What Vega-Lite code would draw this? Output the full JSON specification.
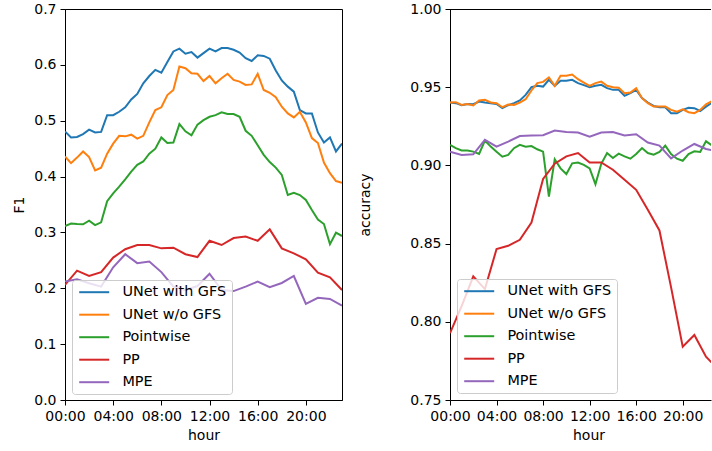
{
  "$schema": "https://vega.github.io/schema/vega-lite/v6.json",
  "background": "white",
  "padding": {"left": 12, "top": 1, "right": 0, "bottom": 0},
  "bounds": "flush",
  "spacing": 108,
  "config": {
    "font": "DejaVu Sans",
    "view": {"stroke": "black", "strokeWidth": 1},
    "axis": {
      "domainColor": "black", "domainWidth": 1, "tickColor": "black", "tickSize": 5, "tickWidth": 1,
      "labelFont": "DejaVu Sans", "labelFontSize": 14, "labelColor": "black", "labelPadding": 4,
      "labelFlush": false, "labelOverlap": false,
      "titleFont": "DejaVu Sans", "titleFontSize": 14, "titleFontWeight": "normal", "titleColor": "black",
      "grid": false
    },
    "legend": {
      "labelFont": "DejaVu Sans", "labelFontSize": 14.4, "labelColor": "black"
    }
  },
  "datasets": {
    "f1": [
      {"h":0,"m":"UNet with GFS","v":0.481},{"h":0.5,"m":"UNet with GFS","v":0.470},{"h":1,"m":"UNet with GFS","v":0.471},{"h":1.5,"m":"UNet with GFS","v":0.476},{"h":2,"m":"UNet with GFS","v":0.484},{"h":2.5,"m":"UNet with GFS","v":0.479},{"h":3,"m":"UNet with GFS","v":0.480},{"h":3.5,"m":"UNet with GFS","v":0.510},{"h":4,"m":"UNet with GFS","v":0.510},{"h":4.5,"m":"UNet with GFS","v":0.516},{"h":5,"m":"UNet with GFS","v":0.524},{"h":5.5,"m":"UNet with GFS","v":0.538},{"h":6,"m":"UNet with GFS","v":0.548},{"h":6.5,"m":"UNet with GFS","v":0.567},{"h":7,"m":"UNet with GFS","v":0.580},{"h":7.5,"m":"UNet with GFS","v":0.591},{"h":8,"m":"UNet with GFS","v":0.586},{"h":8.5,"m":"UNet with GFS","v":0.605},{"h":9,"m":"UNet with GFS","v":0.624},{"h":9.5,"m":"UNet with GFS","v":0.629},{"h":10,"m":"UNet with GFS","v":0.620},{"h":10.5,"m":"UNet with GFS","v":0.623},{"h":11,"m":"UNet with GFS","v":0.613},{"h":11.5,"m":"UNet with GFS","v":0.621},{"h":12,"m":"UNet with GFS","v":0.629},{"h":12.5,"m":"UNet with GFS","v":0.624},{"h":13,"m":"UNet with GFS","v":0.630},{"h":13.5,"m":"UNet with GFS","v":0.630},{"h":14,"m":"UNet with GFS","v":0.627},{"h":14.5,"m":"UNet with GFS","v":0.622},{"h":15,"m":"UNet with GFS","v":0.612},{"h":15.5,"m":"UNet with GFS","v":0.607},{"h":16,"m":"UNet with GFS","v":0.617},{"h":16.5,"m":"UNet with GFS","v":0.616},{"h":17,"m":"UNet with GFS","v":0.611},{"h":17.5,"m":"UNet with GFS","v":0.590},{"h":18,"m":"UNet with GFS","v":0.572},{"h":18.5,"m":"UNet with GFS","v":0.561},{"h":19,"m":"UNet with GFS","v":0.552},{"h":19.5,"m":"UNet with GFS","v":0.519},{"h":20,"m":"UNet with GFS","v":0.513},{"h":20.5,"m":"UNet with GFS","v":0.513},{"h":21,"m":"UNet with GFS","v":0.479},{"h":21.5,"m":"UNet with GFS","v":0.461},{"h":22,"m":"UNet with GFS","v":0.470},{"h":22.5,"m":"UNet with GFS","v":0.445},{"h":23,"m":"UNet with GFS","v":0.459},
      {"h":0,"m":"UNet w/o GFS","v":0.436},{"h":0.5,"m":"UNet w/o GFS","v":0.424},{"h":1,"m":"UNet w/o GFS","v":0.434},{"h":1.5,"m":"UNet w/o GFS","v":0.445},{"h":2,"m":"UNet w/o GFS","v":0.435},{"h":2.5,"m":"UNet w/o GFS","v":0.411},{"h":3,"m":"UNet w/o GFS","v":0.416},{"h":3.5,"m":"UNet w/o GFS","v":0.441},{"h":4,"m":"UNet w/o GFS","v":0.459},{"h":4.5,"m":"UNet w/o GFS","v":0.473},{"h":5,"m":"UNet w/o GFS","v":0.472},{"h":5.5,"m":"UNet w/o GFS","v":0.475},{"h":6,"m":"UNet w/o GFS","v":0.468},{"h":6.5,"m":"UNet w/o GFS","v":0.473},{"h":7,"m":"UNet w/o GFS","v":0.497},{"h":7.5,"m":"UNet w/o GFS","v":0.519},{"h":8,"m":"UNet w/o GFS","v":0.524},{"h":8.5,"m":"UNet w/o GFS","v":0.546},{"h":9,"m":"UNet w/o GFS","v":0.555},{"h":9.5,"m":"UNet w/o GFS","v":0.597},{"h":10,"m":"UNet w/o GFS","v":0.594},{"h":10.5,"m":"UNet w/o GFS","v":0.585},{"h":11,"m":"UNet w/o GFS","v":0.584},{"h":11.5,"m":"UNet w/o GFS","v":0.571},{"h":12,"m":"UNet w/o GFS","v":0.580},{"h":12.5,"m":"UNet w/o GFS","v":0.567},{"h":13,"m":"UNet w/o GFS","v":0.576},{"h":13.5,"m":"UNet w/o GFS","v":0.584},{"h":14,"m":"UNet w/o GFS","v":0.573},{"h":14.5,"m":"UNet w/o GFS","v":0.570},{"h":15,"m":"UNet w/o GFS","v":0.564},{"h":15.5,"m":"UNet w/o GFS","v":0.565},{"h":16,"m":"UNet w/o GFS","v":0.584},{"h":16.5,"m":"UNet w/o GFS","v":0.555},{"h":17,"m":"UNet w/o GFS","v":0.550},{"h":17.5,"m":"UNet w/o GFS","v":0.542},{"h":18,"m":"UNet w/o GFS","v":0.525},{"h":18.5,"m":"UNet w/o GFS","v":0.513},{"h":19,"m":"UNet w/o GFS","v":0.506},{"h":19.5,"m":"UNet w/o GFS","v":0.516},{"h":20,"m":"UNet w/o GFS","v":0.497},{"h":20.5,"m":"UNet w/o GFS","v":0.469},{"h":21,"m":"UNet w/o GFS","v":0.460},{"h":21.5,"m":"UNet w/o GFS","v":0.425},{"h":22,"m":"UNet w/o GFS","v":0.406},{"h":22.5,"m":"UNet w/o GFS","v":0.392},{"h":23,"m":"UNet w/o GFS","v":0.389},
      {"h":0,"m":"Pointwise","v":0.3115},{"h":0.5,"m":"Pointwise","v":0.316},{"h":1,"m":"Pointwise","v":0.315},{"h":1.5,"m":"Pointwise","v":0.3145},{"h":2,"m":"Pointwise","v":0.321},{"h":2.5,"m":"Pointwise","v":0.313},{"h":3,"m":"Pointwise","v":0.318},{"h":3.5,"m":"Pointwise","v":0.356},{"h":4,"m":"Pointwise","v":0.370},{"h":4.5,"m":"Pointwise","v":0.382},{"h":5,"m":"Pointwise","v":0.395},{"h":5.5,"m":"Pointwise","v":0.409},{"h":6,"m":"Pointwise","v":0.421},{"h":6.5,"m":"Pointwise","v":0.427},{"h":7,"m":"Pointwise","v":0.441},{"h":7.5,"m":"Pointwise","v":0.450},{"h":8,"m":"Pointwise","v":0.470},{"h":8.5,"m":"Pointwise","v":0.460},{"h":9,"m":"Pointwise","v":0.461},{"h":9.5,"m":"Pointwise","v":0.494},{"h":10,"m":"Pointwise","v":0.481},{"h":10.5,"m":"Pointwise","v":0.474},{"h":11,"m":"Pointwise","v":0.493},{"h":11.5,"m":"Pointwise","v":0.501},{"h":12,"m":"Pointwise","v":0.507},{"h":12.5,"m":"Pointwise","v":0.510},{"h":13,"m":"Pointwise","v":0.515},{"h":13.5,"m":"Pointwise","v":0.512},{"h":14,"m":"Pointwise","v":0.512},{"h":14.5,"m":"Pointwise","v":0.507},{"h":15,"m":"Pointwise","v":0.482},{"h":15.5,"m":"Pointwise","v":0.473},{"h":16,"m":"Pointwise","v":0.456},{"h":16.5,"m":"Pointwise","v":0.439},{"h":17,"m":"Pointwise","v":0.426},{"h":17.5,"m":"Pointwise","v":0.416},{"h":18,"m":"Pointwise","v":0.403},{"h":18.5,"m":"Pointwise","v":0.367},{"h":19,"m":"Pointwise","v":0.371},{"h":19.5,"m":"Pointwise","v":0.367},{"h":20,"m":"Pointwise","v":0.358},{"h":20.5,"m":"Pointwise","v":0.340},{"h":21,"m":"Pointwise","v":0.323},{"h":21.5,"m":"Pointwise","v":0.315},{"h":22,"m":"Pointwise","v":0.279},{"h":22.5,"m":"Pointwise","v":0.2995},{"h":23,"m":"Pointwise","v":0.2936},
      {"h":0,"m":"PP","v":0.206},{"h":1,"m":"PP","v":0.2315},{"h":2,"m":"PP","v":0.222},{"h":3,"m":"PP","v":0.229},{"h":4,"m":"PP","v":0.255},{"h":5,"m":"PP","v":0.270},{"h":6,"m":"PP","v":0.2775},{"h":7,"m":"PP","v":0.2775},{"h":8,"m":"PP","v":0.2715},{"h":9,"m":"PP","v":0.2727},{"h":10,"m":"PP","v":0.261},{"h":11,"m":"PP","v":0.256},{"h":12,"m":"PP","v":0.285},{"h":13,"m":"PP","v":0.2775},{"h":14,"m":"PP","v":0.290},{"h":15,"m":"PP","v":0.2925},{"h":16,"m":"PP","v":0.285},{"h":17,"m":"PP","v":0.3055},{"h":18,"m":"PP","v":0.2715},{"h":19,"m":"PP","v":0.2625},{"h":20,"m":"PP","v":0.252},{"h":21,"m":"PP","v":0.228},{"h":22,"m":"PP","v":0.2195},{"h":23,"m":"PP","v":0.197},
      {"h":0,"m":"MPE","v":0.212},{"h":1,"m":"MPE","v":0.216},{"h":2,"m":"MPE","v":0.209},{"h":3,"m":"MPE","v":0.203},{"h":4,"m":"MPE","v":0.2375},{"h":5,"m":"MPE","v":0.261},{"h":6,"m":"MPE","v":0.245},{"h":7,"m":"MPE","v":0.248},{"h":8,"m":"MPE","v":0.229},{"h":9,"m":"MPE","v":0.203},{"h":10,"m":"MPE","v":0.197},{"h":11,"m":"MPE","v":0.204},{"h":12,"m":"MPE","v":0.226},{"h":13,"m":"MPE","v":0.197},{"h":14,"m":"MPE","v":0.195},{"h":15,"m":"MPE","v":0.203},{"h":16,"m":"MPE","v":0.212},{"h":17,"m":"MPE","v":0.202},{"h":18,"m":"MPE","v":0.2095},{"h":19,"m":"MPE","v":0.222},{"h":20,"m":"MPE","v":0.172},{"h":21,"m":"MPE","v":0.183},{"h":22,"m":"MPE","v":0.181},{"h":23,"m":"MPE","v":0.169}
    ],
    "acc": [
      {"h":0,"m":"UNet with GFS","v":0.9402},{"h":0.5,"m":"UNet with GFS","v":0.9398},{"h":1,"m":"UNet with GFS","v":0.9385},{"h":1.5,"m":"UNet with GFS","v":0.9393},{"h":2,"m":"UNet with GFS","v":0.9391},{"h":2.5,"m":"UNet with GFS","v":0.9408},{"h":3,"m":"UNet with GFS","v":0.9402},{"h":3.5,"m":"UNet with GFS","v":0.9398},{"h":4,"m":"UNet with GFS","v":0.9393},{"h":4.5,"m":"UNet with GFS","v":0.9366},{"h":5,"m":"UNet with GFS","v":0.9385},{"h":5.5,"m":"UNet with GFS","v":0.9398},{"h":6,"m":"UNet with GFS","v":0.9415},{"h":6.5,"m":"UNet with GFS","v":0.9451},{"h":7,"m":"UNet with GFS","v":0.9500},{"h":7.5,"m":"UNet with GFS","v":0.9509},{"h":8,"m":"UNet with GFS","v":0.9504},{"h":8.5,"m":"UNet with GFS","v":0.9547},{"h":9,"m":"UNet with GFS","v":0.9509},{"h":9.5,"m":"UNet with GFS","v":0.9541},{"h":10,"m":"UNet with GFS","v":0.9541},{"h":10.5,"m":"UNet with GFS","v":0.9547},{"h":11,"m":"UNet with GFS","v":0.9526},{"h":11.5,"m":"UNet with GFS","v":0.9513},{"h":12,"m":"UNet with GFS","v":0.9500},{"h":12.5,"m":"UNet with GFS","v":0.9509},{"h":13,"m":"UNet with GFS","v":0.9515},{"h":13.5,"m":"UNet with GFS","v":0.9494},{"h":14,"m":"UNet with GFS","v":0.9483},{"h":14.5,"m":"UNet with GFS","v":0.9483},{"h":15,"m":"UNet with GFS","v":0.9445},{"h":15.5,"m":"UNet with GFS","v":0.9462},{"h":16,"m":"UNet with GFS","v":0.9483},{"h":16.5,"m":"UNet with GFS","v":0.9430},{"h":17,"m":"UNet with GFS","v":0.9402},{"h":17.5,"m":"UNet with GFS","v":0.9380},{"h":18,"m":"UNet with GFS","v":0.9372},{"h":18.5,"m":"UNet with GFS","v":0.9372},{"h":19,"m":"UNet with GFS","v":0.9334},{"h":19.5,"m":"UNet with GFS","v":0.9334},{"h":20,"m":"UNet with GFS","v":0.9355},{"h":20.5,"m":"UNet with GFS","v":0.9368},{"h":21,"m":"UNet with GFS","v":0.9366},{"h":21.5,"m":"UNet with GFS","v":0.9348},{"h":22,"m":"UNet with GFS","v":0.9376},{"h":22.5,"m":"UNet with GFS","v":0.9400},{"h":23,"m":"UNet with GFS","v":0.9400},
      {"h":0,"m":"UNet w/o GFS","v":0.9402},{"h":0.5,"m":"UNet w/o GFS","v":0.9404},{"h":1,"m":"UNet w/o GFS","v":0.9387},{"h":1.5,"m":"UNet w/o GFS","v":0.9393},{"h":2,"m":"UNet w/o GFS","v":0.9383},{"h":2.5,"m":"UNet w/o GFS","v":0.9415},{"h":3,"m":"UNet w/o GFS","v":0.9419},{"h":3.5,"m":"UNet w/o GFS","v":0.9402},{"h":4,"m":"UNet w/o GFS","v":0.9398},{"h":4.5,"m":"UNet w/o GFS","v":0.9372},{"h":5,"m":"UNet w/o GFS","v":0.9389},{"h":5.5,"m":"UNet w/o GFS","v":0.9387},{"h":6,"m":"UNet w/o GFS","v":0.9402},{"h":6.5,"m":"UNet w/o GFS","v":0.9423},{"h":7,"m":"UNet w/o GFS","v":0.9479},{"h":7.5,"m":"UNet w/o GFS","v":0.9526},{"h":8,"m":"UNet w/o GFS","v":0.9534},{"h":8.5,"m":"UNet w/o GFS","v":0.9562},{"h":9,"m":"UNet w/o GFS","v":0.9509},{"h":9.5,"m":"UNet w/o GFS","v":0.9573},{"h":10,"m":"UNet w/o GFS","v":0.9573},{"h":10.5,"m":"UNet w/o GFS","v":0.9581},{"h":11,"m":"UNet w/o GFS","v":0.9551},{"h":11.5,"m":"UNet w/o GFS","v":0.9530},{"h":12,"m":"UNet w/o GFS","v":0.9509},{"h":12.5,"m":"UNet w/o GFS","v":0.9526},{"h":13,"m":"UNet w/o GFS","v":0.9536},{"h":13.5,"m":"UNet w/o GFS","v":0.9509},{"h":14,"m":"UNet w/o GFS","v":0.9500},{"h":14.5,"m":"UNet w/o GFS","v":0.9496},{"h":15,"m":"UNet w/o GFS","v":0.9462},{"h":15.5,"m":"UNet w/o GFS","v":0.9466},{"h":16,"m":"UNet w/o GFS","v":0.9494},{"h":16.5,"m":"UNet w/o GFS","v":0.9430},{"h":17,"m":"UNet w/o GFS","v":0.9398},{"h":17.5,"m":"UNet w/o GFS","v":0.9376},{"h":18,"m":"UNet w/o GFS","v":0.9376},{"h":18.5,"m":"UNet w/o GFS","v":0.9376},{"h":19,"m":"UNet w/o GFS","v":0.9355},{"h":19.5,"m":"UNet w/o GFS","v":0.9344},{"h":20,"m":"UNet w/o GFS","v":0.9359},{"h":20.5,"m":"UNet w/o GFS","v":0.9340},{"h":21,"m":"UNet w/o GFS","v":0.9334},{"h":21.5,"m":"UNet w/o GFS","v":0.9355},{"h":22,"m":"UNet w/o GFS","v":0.9391},{"h":22.5,"m":"UNet w/o GFS","v":0.9410},{"h":23,"m":"UNet w/o GFS","v":0.9410},
      {"h":0,"m":"Pointwise","v":0.9131},{"h":0.5,"m":"Pointwise","v":0.9110},{"h":1,"m":"Pointwise","v":0.9095},{"h":1.5,"m":"Pointwise","v":0.9095},{"h":2,"m":"Pointwise","v":0.9088},{"h":2.5,"m":"Pointwise","v":0.9073},{"h":3,"m":"Pointwise","v":0.9159},{"h":3.5,"m":"Pointwise","v":0.9120},{"h":4,"m":"Pointwise","v":0.9088},{"h":4.5,"m":"Pointwise","v":0.9056},{"h":5,"m":"Pointwise","v":0.9067},{"h":5.5,"m":"Pointwise","v":0.9110},{"h":6,"m":"Pointwise","v":0.9131},{"h":6.5,"m":"Pointwise","v":0.9120},{"h":7,"m":"Pointwise","v":0.9124},{"h":7.5,"m":"Pointwise","v":0.9103},{"h":8,"m":"Pointwise","v":0.9088},{"h":8.5,"m":"Pointwise","v":0.8800},{"h":9,"m":"Pointwise","v":0.9039},{"h":9.5,"m":"Pointwise","v":0.8981},{"h":10,"m":"Pointwise","v":0.8945},{"h":10.5,"m":"Pointwise","v":0.9013},{"h":11,"m":"Pointwise","v":0.9018},{"h":11.5,"m":"Pointwise","v":0.9003},{"h":12,"m":"Pointwise","v":0.8981},{"h":12.5,"m":"Pointwise","v":0.8880},{"h":13,"m":"Pointwise","v":0.9010},{"h":13.5,"m":"Pointwise","v":0.9079},{"h":14,"m":"Pointwise","v":0.9047},{"h":14.5,"m":"Pointwise","v":0.9075},{"h":15,"m":"Pointwise","v":0.9058},{"h":15.5,"m":"Pointwise","v":0.9043},{"h":16,"m":"Pointwise","v":0.9073},{"h":16.5,"m":"Pointwise","v":0.9111},{"h":17,"m":"Pointwise","v":0.9079},{"h":17.5,"m":"Pointwise","v":0.9069},{"h":18,"m":"Pointwise","v":0.9086},{"h":18.5,"m":"Pointwise","v":0.9126},{"h":19,"m":"Pointwise","v":0.9073},{"h":19.5,"m":"Pointwise","v":0.9043},{"h":20,"m":"Pointwise","v":0.9030},{"h":20.5,"m":"Pointwise","v":0.9073},{"h":21,"m":"Pointwise","v":0.9090},{"h":21.5,"m":"Pointwise","v":0.9086},{"h":22,"m":"Pointwise","v":0.9154},{"h":22.5,"m":"Pointwise","v":0.9128},{"h":23,"m":"Pointwise","v":0.9120},
      {"h":0,"m":"PP","v":0.7927},{"h":1,"m":"PP","v":0.8100},{"h":2,"m":"PP","v":0.8290},{"h":3,"m":"PP","v":0.8209},{"h":4,"m":"PP","v":0.8465},{"h":5,"m":"PP","v":0.8486},{"h":6,"m":"PP","v":0.8524},{"h":7,"m":"PP","v":0.8635},{"h":8,"m":"PP","v":0.8913},{"h":9,"m":"PP","v":0.9011},{"h":10,"m":"PP","v":0.9058},{"h":11,"m":"PP","v":0.9079},{"h":12,"m":"PP","v":0.9019},{"h":13,"m":"PP","v":0.9019},{"h":14,"m":"PP","v":0.8972},{"h":15,"m":"PP","v":0.8908},{"h":16,"m":"PP","v":0.8844},{"h":17,"m":"PP","v":0.8716},{"h":18,"m":"PP","v":0.8584},{"h":19,"m":"PP","v":0.8220},{"h":20,"m":"PP","v":0.7841},{"h":21,"m":"PP","v":0.7916},{"h":22,"m":"PP","v":0.7777},{"h":23,"m":"PP","v":0.7700},
      {"h":0,"m":"MPE","v":0.9088},{"h":1,"m":"MPE","v":0.9067},{"h":2,"m":"MPE","v":0.9071},{"h":3,"m":"MPE","v":0.9163},{"h":4,"m":"MPE","v":0.9120},{"h":5,"m":"MPE","v":0.9152},{"h":6,"m":"MPE","v":0.9188},{"h":7,"m":"MPE","v":0.9191},{"h":8,"m":"MPE","v":0.9193},{"h":9,"m":"MPE","v":0.9223},{"h":10,"m":"MPE","v":0.9214},{"h":11,"m":"MPE","v":0.9210},{"h":12,"m":"MPE","v":0.9184},{"h":13,"m":"MPE","v":0.9210},{"h":14,"m":"MPE","v":0.9214},{"h":15,"m":"MPE","v":0.9191},{"h":16,"m":"MPE","v":0.9199},{"h":17,"m":"MPE","v":0.9146},{"h":18,"m":"MPE","v":0.9127},{"h":19,"m":"MPE","v":0.9045},{"h":20,"m":"MPE","v":0.9095},{"h":21,"m":"MPE","v":0.9137},{"h":22,"m":"MPE","v":0.9105},{"h":23,"m":"MPE","v":0.9090}
    ]
  },
  "resolve": {"scale": {"color": "independent"}, "legend": {"color": "independent"}},
  "hconcat": [
    {
      "width": 277, "height": 391,
      "data": {"name": "f1"},
      "mark": {"type": "line", "strokeWidth": 2, "clip": true},
      "encoding": {
        "x": {"field": "h", "type": "quantitative", "scale": {"domain": [0, 23], "nice": false, "zero": false},
              "axis": {"values": [0, 4, 8, 12, 16, 20], "labelExpr": "(datum.value < 10 ? '0' : '') + datum.value + ':00'", "title": "hour", "titlePadding": 5}},
        "y": {"field": "v", "type": "quantitative", "scale": {"domain": [0, 0.7], "nice": false},
              "axis": {"values": [0, 0.1, 0.2, 0.3, 0.4, 0.5, 0.6, 0.7], "format": ".1f", "title": "F1", "titlePadding": 7}},
        "color": {"field": "m", "type": "nominal",
                  "scale": {"domain": ["UNet with GFS", "UNet w/o GFS", "Pointwise", "PP", "MPE"], "range": ["#1f77b4", "#ff7f0e", "#2ca02c", "#d62728", "#9467bd"]},
                  "legend": {"orient": "none", "legendX": 7, "legendY": 271, "title": null, "symbolType": "M-1,0H5", "symbolSize": 100, "symbolStrokeWidth": 2, "labelOffset": 31, "padding": 5, "rowPadding": 7.5, "strokeColor": "#cccccc", "fillColor": "rgba(255,255,255,0.8)", "cornerRadius": 3}}
      }
    },
    {
      "width": 261, "height": 391,
      "view": {"stroke": null},
      "layer": [
        {
          "data": {"name": "acc"},
          "mark": {"type": "line", "strokeWidth": 2, "clip": true},
          "encoding": {
            "x": {"field": "h", "type": "quantitative", "scale": {"domain": [0, 22.43], "nice": false, "zero": false},
                  "axis": {"values": [0, 4, 8, 12, 16, 20], "labelExpr": "(datum.value < 10 ? '0' : '') + datum.value + ':00'", "title": "hour", "titlePadding": 5, "titleX": 138.5}},
            "y": {"field": "v", "type": "quantitative", "scale": {"domain": [0.75, 1.0], "nice": false, "zero": false},
                  "axis": {"values": [0.75, 0.8, 0.85, 0.9, 0.95, 1.0], "format": ".2f", "title": "accuracy", "titlePadding": 37}},
            "color": {"field": "m", "type": "nominal",
                      "scale": {"domain": ["UNet with GFS", "UNet w/o GFS", "Pointwise", "PP", "MPE"], "range": ["#1f77b4", "#ff7f0e", "#2ca02c", "#d62728", "#9467bd"]},
                      "legend": {"orient": "none", "legendX": 7, "legendY": 270, "title": null, "symbolType": "M-1,0H5", "symbolSize": 100, "symbolStrokeWidth": 2, "labelOffset": 31, "padding": 5, "rowPadding": 7.5, "strokeColor": "#cccccc", "fillColor": "rgba(255,255,255,0.8)", "cornerRadius": 3}}
          }
        },
        {
          "data": {"values": [{}]},
          "mark": {"type": "rule", "color": "black", "strokeWidth": 1, "yOffset": 0.5},
          "encoding": {"y": {"datum": 1.0}}
        }
      ]
    }
  ]
}
